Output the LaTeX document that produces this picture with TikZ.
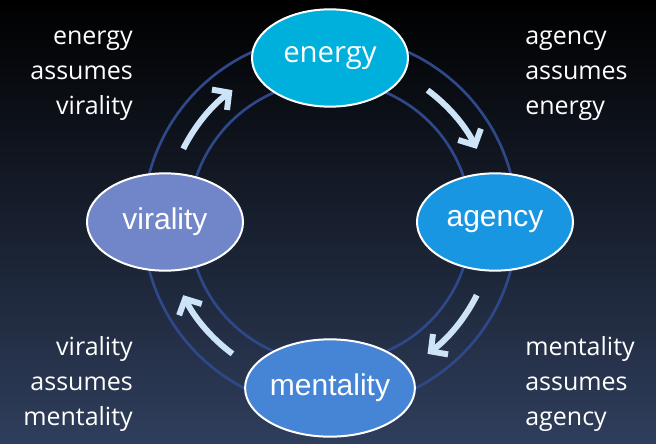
\documentclass[tikz,border=0pt]{standalone}
\usepackage{fontspec}
\setmainfont{Liberation Sans}
\newfontfamily\notefont{Open Sans}
\usetikzlibrary{arrows.meta,shapes.geometric}
\definecolor{EnergyClr}{RGB}{0,176,220}
\definecolor{AgencyClr}{RGB}{24,150,225}
\definecolor{MentalityClr}{RGB}{70,132,214}
\definecolor{ViralityClr}{RGB}{112,134,200}
\definecolor{RingClr}{RGB}{46,72,138}
\definecolor{ArrowClr}{RGB}{205,228,248}
\definecolor{BotClr}{RGB}{47,62,92}
\definecolor{MidClr}{RGB}{12,15,22}

\begin{document}
\begin{tikzpicture}[x=0.75pt,y=0.75pt,
  bubble/.style={ellipse,draw=white,line width=1.5pt,minimum width=117pt,minimum height=73pt,
    inner sep=0pt,text=white,font=\fontsize{22.5}{26}\selectfont},
  ring/.style={RingClr,line width=2pt},
  flow/.style={ArrowClr,line width=4.5pt,-{Straight Barb[length=9pt,width=19pt]}},
  note/.style={inner sep=0pt,text=white,font=\notefont\fontsize{18.75}{26.25}\selectfont}]

\useasboundingbox (0,0) rectangle (656,443);
\shade[top color=black,middle color=MidClr,bottom color=BotClr] (0,0) rectangle (656,443);

\coordinate (c) at (330,221);

\draw[ring] (c) circle[radius=187];
\draw[ring] (c) circle[radius=141];

\foreach \a in {140,40,-40,-140}
  \draw[flow] (c) ++(\a+13.5:164) arc[start angle=\a+13.5,end angle=\a-13.5,radius=164];

\node[bubble,fill=EnergyClr,font=\notefont\fontsize{22}{26}\selectfont] (energy) at ([shift={(90:164)}]c) {energy};
\node[bubble,fill=AgencyClr] (agency) at ([shift={(0:165)}]c) {agency};
\node[bubble,fill=MentalityClr] (mentality) at ([shift={(-90:166)}]c) {mentality};
\node[bubble,fill=ViralityClr] (virality) at ([shift={(180:165)}]c) {virality};

% last line sits on the anchor
\node[note,align=right,anchor=base east] (evir) at (133,328) {energy\\assumes\\virality};
\node[note,align=left,anchor=base west] (aene) at (525,328) {agency\\assumes\\energy};
\node[note,align=right,anchor=base east] (vmen) at (133,18) {virality\\assumes\\mentality};
\node[note,align=left,anchor=base west] (mage) at (525,18) {mentality\\assumes\\agency};

\end{tikzpicture}
\end{document}
